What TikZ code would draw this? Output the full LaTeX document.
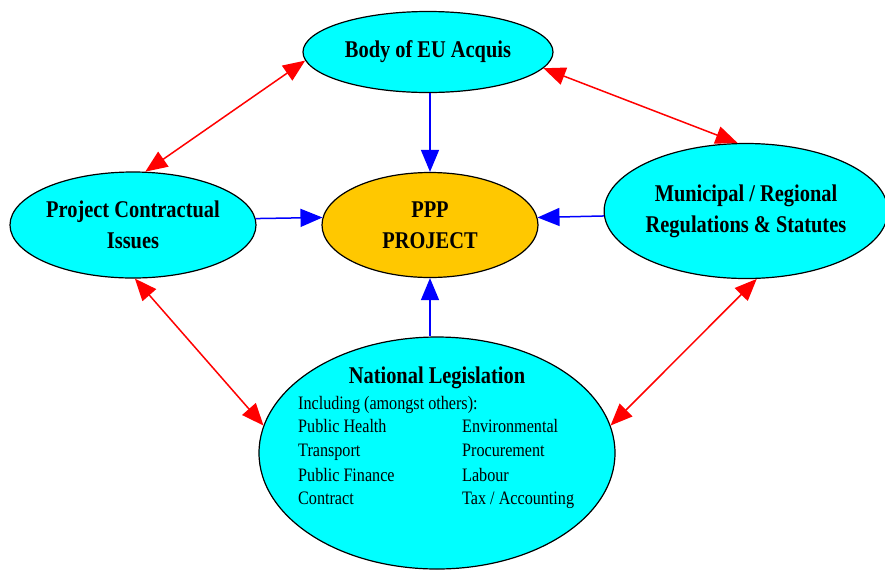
\documentclass[tikz,border=0pt]{standalone}
\usepackage{fontspec}
\setmainfont[FakeStretch=0.85]{Liberation Serif}
\usetikzlibrary{shapes.geometric,arrows.meta}
\definecolor{cyanfill}{RGB}{0,255,255}
\definecolor{goldfill}{RGB}{255,200,0}
\definecolor{arrowred}{RGB}{255,0,0}
\definecolor{arrowblue}{RGB}{0,0,255}
\tikzset{
  ell/.style={ellipse, draw=black, line width=1.2pt, fill=cyanfill, inner sep=0pt, align=center,
    font=\fontsize{24}{31}\selectfont\bfseries},
  bluearrow/.style={draw=arrowblue, line width=1.5pt, -{Triangle[length=22pt,width=18pt]}},
  redarrow/.style={draw=arrowred, line width=1.5pt, {Triangle[length=22pt,width=18pt]}-{Triangle[length=22pt,width=18pt]}},
  itemtxt/.style={anchor=base west, inner sep=0pt, font=\fontsize{19}{23}\selectfont}
}
\begin{document}
\begin{tikzpicture}[x=1pt,y=-1pt]
\useasboundingbox (0,0) rectangle (885,574);
\node[ell, minimum width=250pt, minimum height=81pt] (eu) at (428,52) {Body of EU Acquis};
\node[ell, fill=goldfill, minimum width=216pt, minimum height=105pt] (ppp) at (430,225) {PPP\\PROJECT};
\node[ell, minimum width=246pt, minimum height=106pt] (pci) at (133,225) {Project Contractual\\Issues};
\node[ell, minimum width=278pt, minimum height=135pt] (mrs) at (746,211) {Municipal / Regional\\Regulations \& Statutes};
\node[ell, minimum width=356pt, minimum height=232pt] (nl) at (437,453) {};
\node[anchor=base, inner sep=0pt, font=\fontsize{24}{31}\selectfont\bfseries] (nlt) at (437,383) {National Legislation};
\node[itemtxt] (inc) at (298,409) {Including (amongst others):};
\node[itemtxt] (i1) at (298,432) {Public Health};
\node[itemtxt] (i2) at (298,456) {Transport};
\node[itemtxt] (i3) at (298,481) {Public Finance};
\node[itemtxt] (i4) at (298,504) {Contract};
\node[itemtxt] (j1) at (462,432) {Environmental};
\node[itemtxt] (j2) at (462,456) {Procurement};
\node[itemtxt] (j3) at (462,481) {Labour};
\node[itemtxt] (j4) at (462,504) {Tax / Accounting};
% blue arrows
\draw[bluearrow] (eu.south -| ppp.north) -- (ppp.north);
\draw[bluearrow] (pci.3) -- (ppp.176);
\draw[bluearrow] (mrs.182) -- (ppp.4);
\draw[bluearrow] (ppp.south |- nl.north) -- (ppp.south);
% red arrows
\draw[redarrow] (pci.77) -- (eu.184);
\draw[redarrow] (eu.352) -- (mrs.97);
\draw[redarrow] (pci.272) -- (nl.171);
\draw[redarrow] (mrs.279) -- (nl.9);
\end{tikzpicture}
\end{document}
